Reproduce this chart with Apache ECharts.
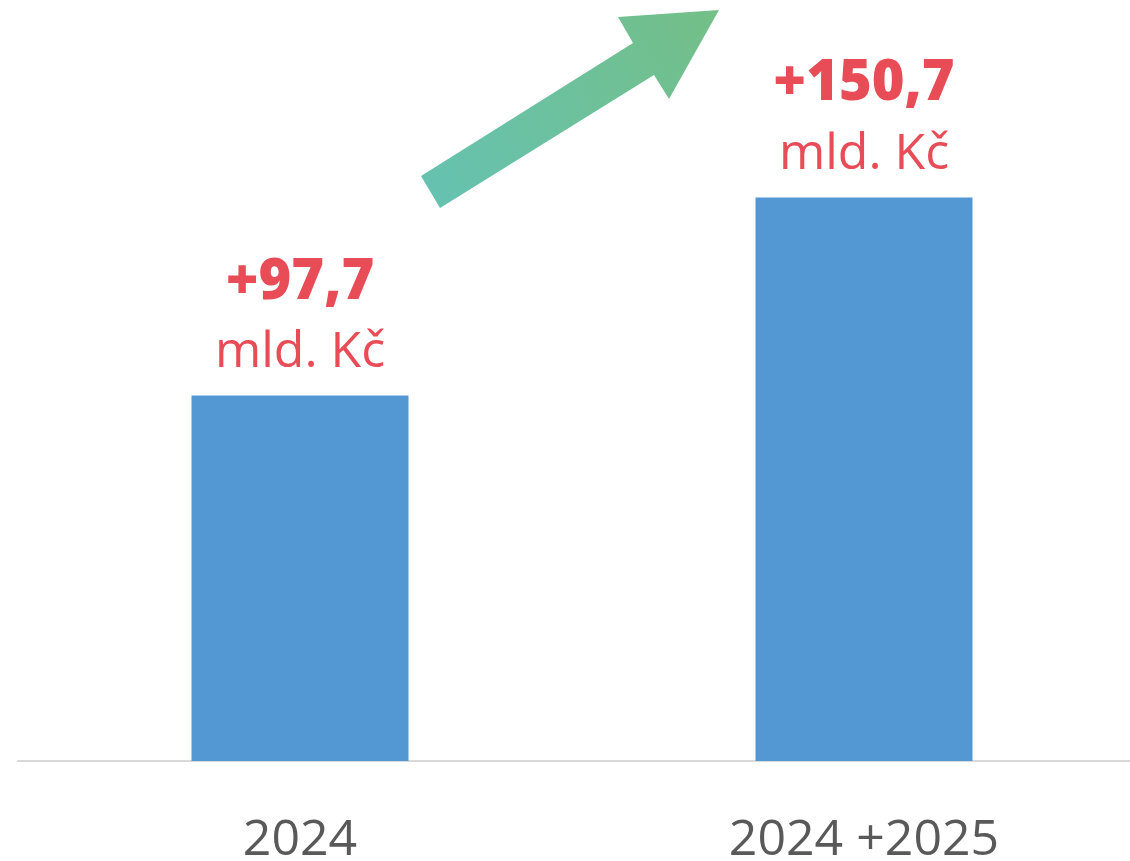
<!DOCTYPE html>
<html>
<head>
<meta charset="utf-8">
<script src="https://cdn.jsdelivr.net/npm/echarts@6/dist/echarts.min.js"></script>
<style>html,body{margin:0;padding:0;background:#fff}#c{width:1130px;height:861px}</style>
</head>
<body>
<div id="c"></div>
<script>
var categories = ['2024', '2024 +2025'];
var values = [97.7, 150.7];
var unitText = 'mld. Kč';

var chart = echarts.init(document.getElementById('c'));
chart.setOption({
  animation: false,
  backgroundColor: '#ffffff',
  grid: { left: 18, right: -16, top: 13, bottom: 100, containLabel: false, outerBoundsMode: 'none' },
  xAxis: {
    type: 'category',
    data: categories,
    axisLine: { show: true, lineStyle: { color: '#d9d9d9', width: 2 } },
    axisTick: { show: false },
    axisLabel: { color: '#595959', fontSize: 50, fontFamily: 'Open Sans', margin: 55 }
  },
  yAxis: {
    type: 'value', min: 0, max: 200, show: false,
    splitLine: { show: false }
  },
  series: [{
    type: 'bar',
    data: values,
    barWidth: 217,
    itemStyle: { color: '#5498d3' },
    label: {
      show: true,
      position: 'top',
      distance: 8,
      formatter: function (p) {
        return '{a|+' + String(p.value).replace('.', ',') + '}\n{b|' + unitText + '}';
      },
      rich: {
        a: { color: '#e84c57', fontSize: 56, fontWeight: 800, fontFamily: 'Open Sans', lineHeight: 70 },
        b: { color: '#e84c57', fontSize: 50, fontFamily: 'Open Sans', lineHeight: 70 }
      }
    }
  }],
  graphic: [{
    type: 'polygon',
    shape: {
      points: [[421, 176], [633, 43], [618, 17], [719, 10], [669, 99], [654, 75], [440, 208]]
    },
    style: {
      fill: new echarts.graphic.LinearGradient(0, 1, 1, 0, [
        { offset: 0, color: '#65c2b2' },
        { offset: 1, color: '#74bf87' }
      ])
    },
    z: 10
  }]
});
</script>
</body>
</html>
